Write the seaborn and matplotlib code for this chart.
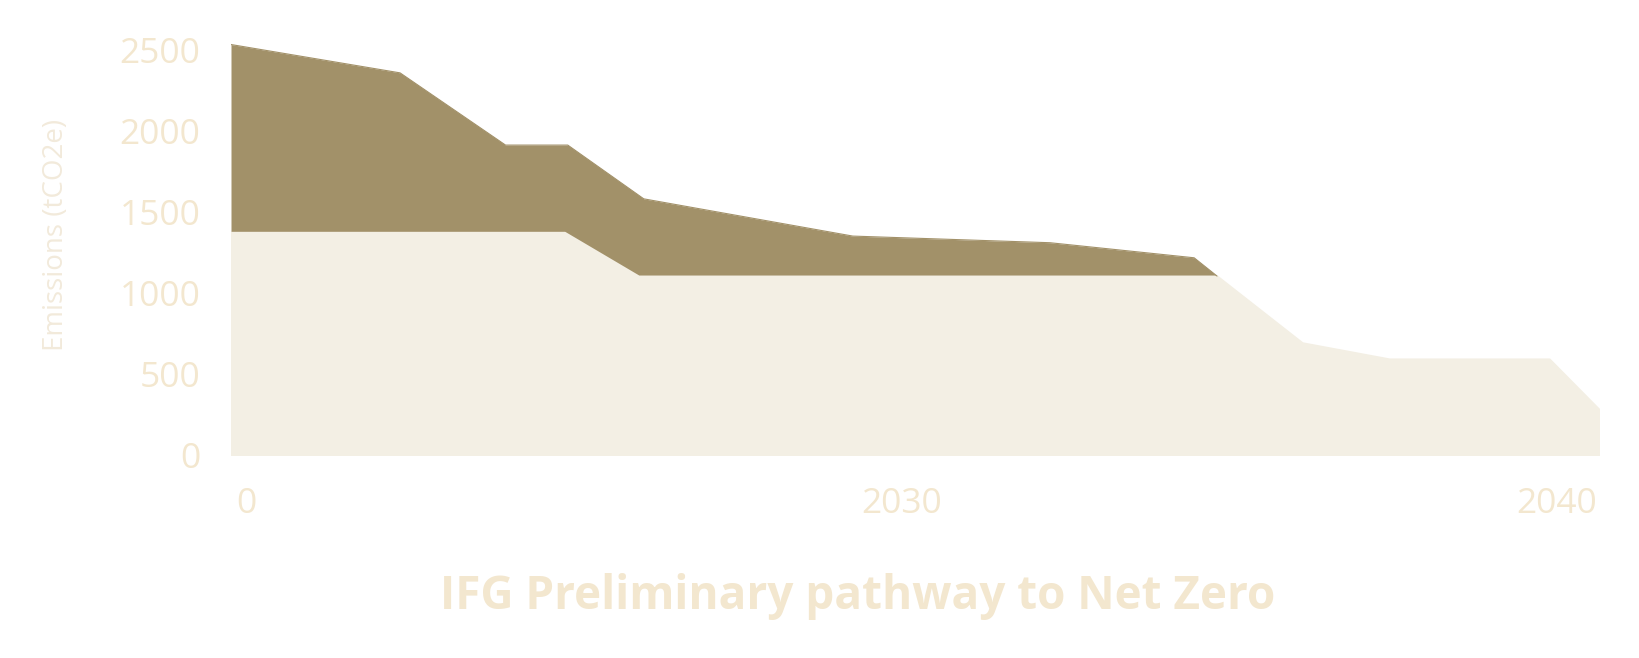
import matplotlib
matplotlib.use("Agg")
import matplotlib.pyplot as plt
import seaborn as sns

# upper band (total) and lower band (pathway)
dark_years = [2019.76, 2022.34, 2023.95, 2024.90, 2026.06, 2029.25, 2032.26, 2034.46, 2034.81]
dark_values = [2535, 2360, 1914, 1914, 1582, 1352, 1311, 1218, 1105]

light_years = [2019.76, 2024.85, 2025.98, 2034.81, 2036.11, 2037.44, 2039.88, 2040.64]
light_values = [1375, 1375, 1105, 1105, 693, 593, 593, 282]

x_ticks = [2020, 2030, 2040]
x_labels = ["0", "2030", "2040"]
y_ticks = [0, 500, 1000, 1500, 2000, 2500]

dark_col = "#A29169"
light_col = "#F3EFE4"
text_col = "#F3E7CF"

sns.set_theme(style="white")
plt.rcParams["font.family"] = ["Open Sans", "DejaVu Sans"]

fig = plt.figure(figsize=(16.4, 6.58), dpi=100)
ax = fig.add_axes([231 / 1640, 1 - 455 / 658, 1368 / 1640, 421 / 658])

ax.fill_between(dark_years, dark_values, 0, color=dark_col, linewidth=0)
sns.lineplot(x=dark_years, y=dark_values, ax=ax, color=dark_col, linewidth=0.8)
# light band on top, with an edge in its own colour so the dark one doesn't peek out
ax.fill_between(light_years, light_values, 0, facecolor=light_col,
                edgecolor=light_col, linewidth=1.5)

ax.set_xlim(light_years[0], light_years[-1])
ax.set_ylim(0, 2600)
ax.set_xticks(x_ticks)
ax.set_xticklabels(x_labels)
ax.set_yticks(y_ticks)
ax.tick_params(axis="y", length=0, pad=22, labelsize=25.5, labelcolor=text_col)
ax.tick_params(axis="x", length=0, pad=23, labelsize=25.5, labelcolor=text_col)
sns.despine(ax=ax, left=True, bottom=True)
ax.set_xlabel("")
ax.set_ylabel("")

fig.text(56 / 1640, 1 - 235 / 658, "Emissions (tCO2e)", rotation=90,
         ha="center", va="center", fontsize=20, color="#F2EADB")
fig.text(858 / 1640, 1 - 597 / 658, "IFG Preliminary pathway to Net Zero",
         ha="center", va="center", fontsize=33, fontweight="bold", color=text_col)

fig.savefig("out.png", dpi=100, facecolor="white")
